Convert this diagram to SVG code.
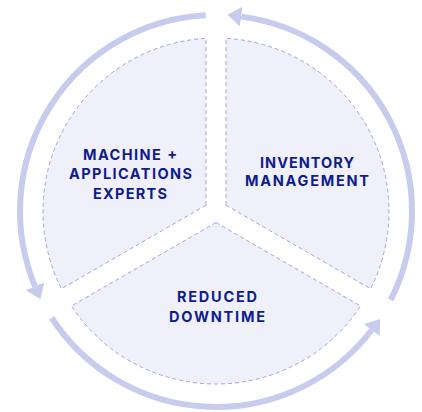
<svg xmlns="http://www.w3.org/2000/svg" width="422" height="412" viewBox="0 0 422 412">
  <style>
    .sector { fill: #eff0fa; stroke: #9ca5e8; stroke-width: 1; stroke-dasharray: 4 3; }
    .ring { fill: none; stroke: #c7ccee; stroke-width: 6; }
    .label { font-family: Inter, "Liberation Sans", Arial, sans-serif; font-weight: 700; font-size: 14.5px; fill: #0f1c8d; text-anchor: middle; }
  </style>
  <defs>
    <marker id="arrow" markerUnits="userSpaceOnUse" viewBox="0 -10 14 20" markerWidth="14" markerHeight="20" refX="0" refY="0" orient="auto">
      <path d="M0,-10 L14,0 L0,10 Z" fill="#c7ccee"/>
    </marker>
  </defs>
  <rect width="422" height="412" fill="#ffffff"/>

  <g id="connectors">
    <path class="ring" d="M 390.64 299.98 A 196 196 0 0 0 241.24 16.63" marker-end="url(#arrow)"/>
    <path class="ring" d="M 205.74 15.27 A 196 196 0 0 0 35.05 286.32" marker-end="url(#arrow)"/>
    <path class="ring" d="M 51.62 317.75 A 196 196 0 0 0 371.70 330.05" marker-end="url(#arrow)"/>
  </g>

  <g id="machine-applications-experts">
    <path class="sector" d="M 206 205.23 L 206 38.29 A 173 173 0 0 0 61.43 288.70 Z"/>
    <text class="label" x="130" y="160" textLength="94" lengthAdjust="spacing">MACHINE +</text>
    <text class="label" x="130.5" y="179.3" textLength="123" lengthAdjust="spacing">APPLICATIONS</text>
    <text class="label" x="130" y="198.5" textLength="74" lengthAdjust="spacing">EXPERTS</text>
  </g>

  <g id="inventory-management">
    <path class="sector" d="M 226 205.23 L 226 38.29 A 173 173 0 0 1 370.57 288.70 Z"/>
    <text class="label" x="307" y="167.6" textLength="94" lengthAdjust="spacing">INVENTORY</text>
    <text class="label" x="307" y="186" textLength="124" lengthAdjust="spacing">MANAGEMENT</text>
  </g>

  <g id="reduced-downtime">
    <path class="sector" d="M 216 222.55 L 360.57 306.02 A 173 173 0 0 1 71.43 306.02 Z"/>
    <text class="label" x="217" y="302.3" textLength="80" lengthAdjust="spacing">REDUCED</text>
    <text class="label" x="217" y="321.7" textLength="96" lengthAdjust="spacing">DOWNTIME</text>
  </g>
</svg>
